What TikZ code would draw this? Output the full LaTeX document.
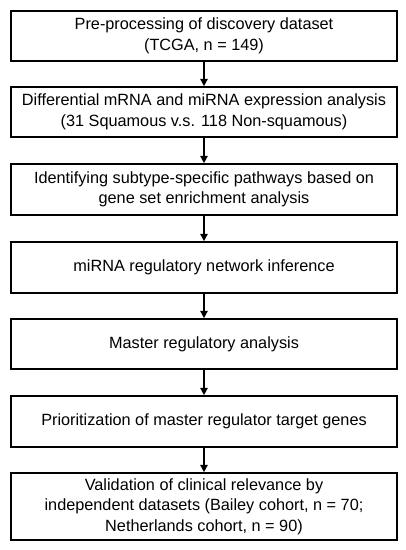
\documentclass[tikz,border=0pt]{standalone}
\usepackage{fontspec}
\setmainfont{Liberation Sans}
\usetikzlibrary{arrows.meta}
\begin{document}
\begin{tikzpicture}[x=0.75pt,y=-0.75pt,
  stepbox/.style={draw=black, line width=1.25pt, fill=white, minimum width=386*0.75pt, inner sep=0pt,
    align=center, font=\fontsize{12.2pt}{15.4pt}\selectfont},
  flow/.style={-{Triangle[length=5.5pt,width=5.5pt]}, line width=1.2pt}]
\useasboundingbox (0,0) rectangle (405,550);
\node[stepbox, minimum height=50*0.75pt] (b1) at (204,36) {Pre-processing of discovery dataset\\(TCGA, n = 149)};
\node[stepbox, minimum height=50*0.75pt] (b2) at (204,112) {Differential mRNA and miRNA expression analysis\\(31 Squamous v.s. 118 Non-squamous)};
\node[stepbox, minimum height=51*0.75pt] (b3) at (204,189.5) {Identifying subtype-specific pathways based on\\gene set enrichment analysis};
\node[stepbox, minimum height=51*0.75pt] (b4) at (204,267.5) {miRNA regulatory network inference};
\node[stepbox, minimum height=50*0.75pt] (b5) at (204,344) {Master regulatory analysis};
\node[stepbox, minimum height=51*0.75pt] (b6) at (204,421.5) {Prioritization of master regulator target genes};
\node[stepbox, minimum height=67*0.75pt] (b7) at (204,506.5) {Validation of clinical relevance by\\independent datasets (Bailey cohort, n = 70;\\Netherlands cohort, n = 90)};
\foreach \a/\b in {b1/b2,b2/b3,b3/b4,b4/b5,b5/b6,b6/b7}
  \draw[flow] (\a.south) -- (\b.north);
\end{tikzpicture}
\end{document}
